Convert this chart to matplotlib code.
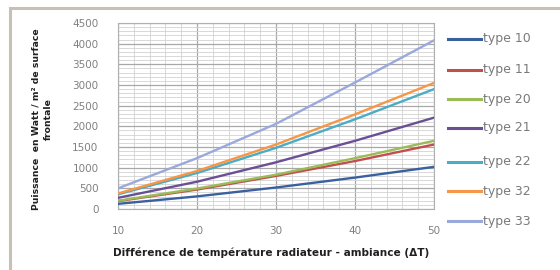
import matplotlib
matplotlib.use("Agg")
import matplotlib.pyplot as plt
from matplotlib.ticker import MultipleLocator
from matplotlib.lines import Line2D

delta_t = [10, 20, 30, 40, 50]
type_10 = [125, 305, 520, 760, 1020]
type_11 = [190, 470, 800, 1160, 1560]
type_20 = [200, 495, 830, 1230, 1650]
type_21 = [270, 660, 1130, 1650, 2210]
type_22 = [355, 870, 1480, 2170, 2900]
type_32 = [375, 920, 1560, 2290, 3050]
type_33 = [500, 1230, 2060, 3060, 4080]

labels = ["type 10", "type 11", "type 20", "type 21", "type 22", "type 32", "type 33"]
series = [type_10, type_11, type_20, type_21, type_22, type_32, type_33]
colors = ["#3a60a0", "#c0504d", "#9bbb59", "#6a4f96", "#4bacc6", "#f79646", "#9aa9dc"]

fig = plt.figure(figsize=(5.6, 2.7), dpi=100)
fig.patch.set_facecolor("white")

# outer frame (left and top edges)
fig.add_artist(Line2D([10/560, 10/560], [0, 1 - 8/270], color="#c8c0b6", lw=2.2))
fig.add_artist(Line2D([10/560, 1], [1 - 8/270, 1 - 8/270], color="#c8c0b6", lw=2.2))

ax = fig.add_axes([118/560, 1 - 209/270, (434 - 118)/560, (209 - 23)/270])
for s, c, l in zip(series, colors, labels):
    ax.plot(delta_t, s, color=c, lw=1.7, label=l, zorder=3)

ax.set_xlim(10, 50)
ax.set_ylim(0, 4500)
ax.xaxis.set_major_locator(MultipleLocator(10))
ax.xaxis.set_minor_locator(MultipleLocator(2))
ax.yaxis.set_major_locator(MultipleLocator(500))
ax.yaxis.set_minor_locator(MultipleLocator(100))
ax.grid(which="major", color="#a8a8a8", lw=0.9)
ax.grid(which="minor", color="#d2d2d2", lw=0.6)
ax.set_axisbelow(True)
ax.tick_params(which="both", length=0)
ax.tick_params(axis="x", pad=12, labelsize=7.5, labelcolor="#808080")
ax.tick_params(axis="y", pad=14, labelsize=7.5, labelcolor="#808080")
for sp in ax.spines.values():
    sp.set_color("#b0b0b0")
    sp.set_linewidth(0.8)

fig.text(271/560, 1 - 253/270, "Différence de température radiateur - ambiance (ΔT)",
         ha="center", va="center", fontsize=7.6, fontweight="bold", color="#202020")
fig.text(42/560, 1 - 119/270, "Puissance  en Watt / m² de surface\nfrontale",
         ha="center", va="center", rotation=90, fontsize=6.7, fontweight="bold",
         color="#202020", linespacing=1.45, multialignment="center")

# legend
leg_y = [39, 70, 99, 128, 162, 191, 221]
for y, c, l in zip(leg_y, colors, labels):
    fig.add_artist(Line2D([448/560, 481/560], [1 - y/270, 1 - y/270], color=c, lw=2.2))
    fig.text(483/560, 1 - y/270, l, ha="left", va="center", fontsize=9, color="#7a7a7a")

fig.savefig("out.png", dpi=100, facecolor="white")
